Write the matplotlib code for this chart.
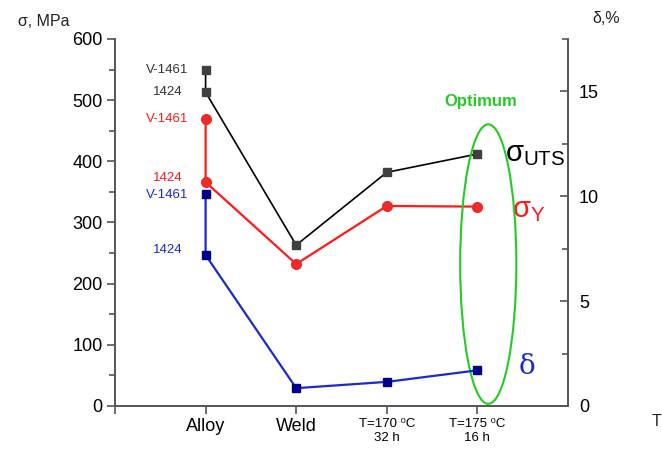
import matplotlib
matplotlib.use("Agg")
import matplotlib.pyplot as plt
from matplotlib.patches import Ellipse

plt.rcParams["font.family"] = ["Liberation Sans", "DejaVu Sans"]
plt.rcParams["mathtext.fontset"] = "custom"
plt.rcParams["mathtext.rm"] = "Liberation Sans"
plt.rcParams["mathtext.it"] = "Liberation Sans"

# categories on the x axis
stages = ["Alloy", "Weld", "T=170 ⁰C\n32 h", "T=175 ⁰C\n16 h"]
stage_pos = [1, 2, 3, 4]

# each series: [V-1461 alloy, 1424 alloy, weld, 170C/32h, 175C/16h]
series_x = [1, 1, 2, 3, 4]
uts = [550, 513, 263, 382, 412]       # sigma_UTS, MPa
ys = [470, 366, 232, 327, 326]        # sigma_Y, MPa
elong = [10.1, 7.2, 0.85, 1.15, 1.7]  # delta, %

alloy_names = ["V-1461", "1424"]

fig = plt.figure(figsize=(6.62, 4.55), dpi=100)
ax = fig.add_axes([0.1737, 0.1077, 0.6843, 0.8066])
ax2 = ax.twinx()

ax.plot(series_x, uts, color="black", lw=1.2, marker="s", ms=6,
        mfc="#404040", mec="#404040", zorder=3)
ax.plot(series_x, ys, color="#ff1a1a", lw=1.6, marker="o", ms=7,
        mfc="#ee2a2a", mec="#ee2a2a", zorder=3)
ax2.plot(series_x, elong, color="#1a2ad0", lw=1.6, marker="s", ms=6,
         mfc="#00008b", mec="#00008b", zorder=3)

ax.set_xlim(0, 5)
ax.set_ylim(0, 600)
ax2.set_ylim(0, 17.5)

ax.set_yticks(range(0, 601, 100))
ax.set_yticks(range(50, 600, 100), minor=True)
ax2.set_yticks([0, 5, 10, 15])
ax2.set_yticks([2.5, 7.5, 12.5, 17.5], minor=True)
ax.set_xticks([0] + stage_pos)
ax.set_xticklabels([""] + stages)
for lbl in ax.get_xticklabels()[1:3]:
    lbl.set_fontsize(13)
for lbl in ax.get_xticklabels()[3:]:
    lbl.set_fontsize(9.5)

spine_c = "#555555"
for a in (ax, ax2):
    a.spines["top"].set_visible(False)
    for s in ("left", "right", "bottom"):
        a.spines[s].set_color(spine_c)
        a.spines[s].set_linewidth(1.2)
ax.tick_params(axis="y", which="major", length=6, width=1.2, color=spine_c,
               labelsize=13, pad=3)
ax.tick_params(axis="y", which="minor", length=4, width=1.2, color=spine_c)
ax.tick_params(axis="x", which="major", length=6, width=1.2, color=spine_c,
               pad=3)
ax2.tick_params(axis="y", which="major", direction="in", length=6, width=1.2,
                color=spine_c, labelsize=13, pad=8)
ax2.tick_params(axis="y", which="minor", direction="in", length=4, width=1.2,
                color=spine_c)

# alloy labels next to the first points (small vertical nudges as in source)
label_colors = ["#333333", "#ff1a1a", "#1a2ad0"]
nudges = [(0, 0), (0, 6), (-0.05, 0.25)]
for vals, col, tr, dy in ((uts, label_colors[0], ax, nudges[0]),
                          (ys, label_colors[1], ax, nudges[1]),
                          (elong, label_colors[2], ax2, nudges[2])):
    for name, v, d in zip(alloy_names, vals[:2], dy):
        tr.text(0.58, v + d, name, color=col, fontsize=9.5, ha="center",
                va="center")

# series labels
ax.text(4.3, 412, r"$\mathrm{\sigma}_{\mathrm{UTS}}$", fontsize=21,
        va="center", ha="left", color="black")
ax.text(4.38, 320, r"$\mathrm{\sigma}_{\mathrm{Y}}$", fontsize=21,
        va="center", ha="left", color="#ff1a1a")
ax2.text(4.45, 1.9, "δ", fontsize=20, va="center", ha="left",
         color="#1a2ad0", family="DejaVu Serif")

# optimum region
ax.add_patch(Ellipse((4.12, 232), 0.62, 457, fill=False, ec="#22cc22",
                     lw=1.5, zorder=4))
ax.text(4.04, 497, "Optimum", color="#22cc22", fontsize=12,
        fontweight="bold", ha="center", va="center")

fig.text(0.066, 0.952, "σ, MPa", fontsize=11.5, ha="center", va="center",
         color="#222222")
fig.text(0.915, 0.96, "δ,%", fontsize=11.5, ha="center", va="center",
         color="#222222")
fig.text(0.984, 0.073, "T", fontsize=11.5, ha="left", va="center",
         color="#222222")

fig.savefig("out.png", dpi=100)
